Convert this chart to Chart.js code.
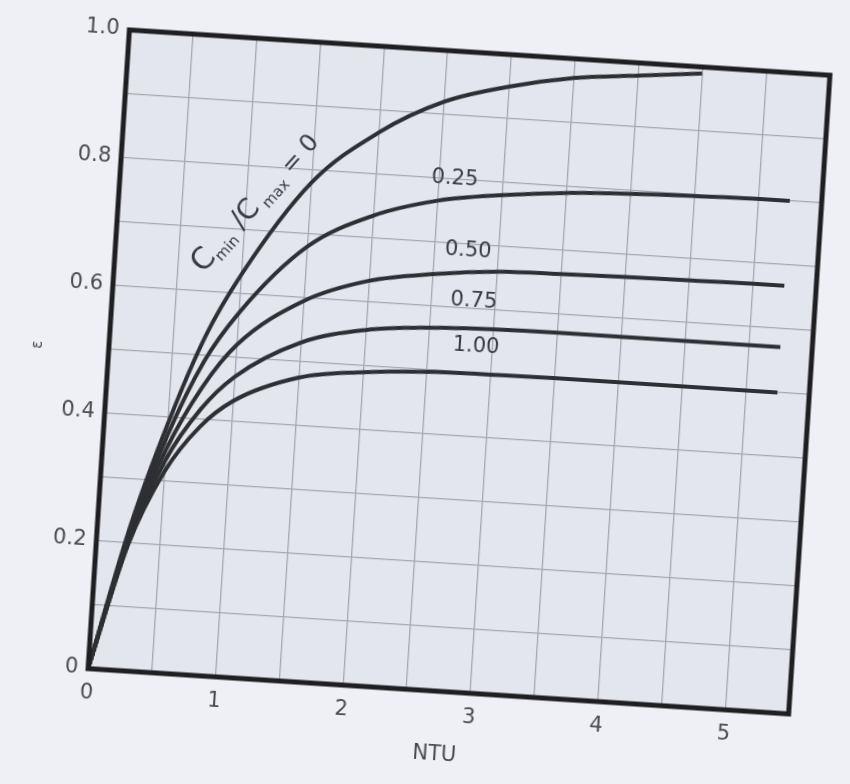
<!DOCTYPE html>
<html>
<head>
<meta charset="utf-8">
<script src="https://cdn.jsdelivr.net/npm/chart.js@4"></script>
<style>
  html, body { margin: 0; padding: 0; background: #eef0f5; overflow: hidden; }
  #chart {
    position: absolute; left: 0; top: 0;
    transform: rotate(3.7deg);
    transform-origin: 460px 372px;
  }
</style>
</head>
<body>
<canvas id="chart" width="850" height="784"></canvas>
<script>
// NTU values where the curves were read
const ntu = [0, 0.25, 0.5, 0.75, 1, 1.5, 2, 2.5, 3, 3.5, 4, 4.5, 5, 5.25];
const ntuZero = [0, 0.25, 0.5, 0.75, 1, 1.5, 2, 2.5, 3, 3.5, 4, 4.5];

// effectiveness
const epsC0 = [0, 0.22, 0.39, 0.53, 0.63, 0.78, 0.865, 0.92, 0.95, 0.97, 0.98, 0.99];
const epsC025 = [0, 0.21, 0.37, 0.49, 0.57, 0.68, 0.735, 0.765, 0.78, 0.79, 0.795, 0.798, 0.8, 0.8];
const epsC050 = [0, 0.21, 0.35, 0.45, 0.52, 0.595, 0.633, 0.65, 0.66, 0.663, 0.665, 0.666, 0.667, 0.667];
const epsC075 = [0, 0.2, 0.333, 0.416, 0.47, 0.53, 0.556, 0.566, 0.57, 0.571, 0.571, 0.571, 0.571, 0.571];
const epsC100 = [0, 0.197, 0.316, 0.388, 0.432, 0.475, 0.49, 0.497, 0.499, 0.5, 0.5, 0.5, 0.5, 0.5];

const curveLabels = ['0.25', '0.50', '0.75', '1.00'];
const labelPos = [[2.62, 0.80], [2.76, 0.69], [2.83, 0.612], [2.87, 0.542]];
const ratioLabelPos = [1.06, 0.745];

const toPoints = (xs, ys) => ys.map((y, i) => ({ x: xs[i], y: y }));

const lineStyle = {
  borderColor: '#2e2f33',
  borderWidth: 4,
  pointRadius: 0,
  cubicInterpolationMode: 'monotone',
  fill: false
};

const plotDecor = {
  id: 'plotDecor',
  beforeDraw(chart) {
    const { ctx, chartArea: a } = chart;
    ctx.save();
    ctx.fillStyle = '#e3e6ed';
    ctx.fillRect(a.left, a.top, a.right - a.left, a.bottom - a.top);
    ctx.restore();
  },
  afterDraw(chart) {
    const { ctx, chartArea: a, scales } = chart;
    ctx.save();
    ctx.strokeStyle = '#1f1f22';
    ctx.lineWidth = 5;
    ctx.strokeRect(a.left, a.top, a.right - a.left, a.bottom - a.top);

    ctx.fillStyle = '#3a3a3e';
    ctx.font = '21px "DejaVu Sans"';
    ctx.textAlign = 'center';
    ctx.textBaseline = 'middle';
    curveLabels.forEach((t, i) => {
      ctx.fillText(t, scales.x.getPixelForValue(labelPos[i][0]), scales.y.getPixelForValue(labelPos[i][1]));
    });

    // C_min/C_max = 0 written along the top curve
    ctx.translate(scales.x.getPixelForValue(ratioLabelPos[0]), scales.y.getPixelForValue(ratioLabelPos[1]));
    ctx.rotate(-52 * Math.PI / 180);
    ctx.textAlign = 'left';
    ctx.textBaseline = 'alphabetic';
    const parts = [
      ['C', 30, 0], ['min', 15, 6], [' /C', 28, 0], [' max', 15, 6], [' = 0', 24, 0]
    ];
    let w = 0;
    parts.forEach(p => { ctx.font = p[1] + 'px "DejaVu Sans"'; w += ctx.measureText(p[0]).width; });
    let x = -w / 2;
    parts.forEach(p => {
      ctx.font = p[1] + 'px "DejaVu Sans"';
      ctx.fillText(p[0], x, 10 + p[2]);
      x += ctx.measureText(p[0]).width;
    });
    ctx.restore();
  }
};

new Chart(document.getElementById('chart'), {
  type: 'line',
  data: {
    datasets: [
      { label: '0', data: toPoints(ntuZero, epsC0), ...lineStyle },
      { label: '0.25', data: toPoints(ntu, epsC025), ...lineStyle },
      { label: '0.50', data: toPoints(ntu, epsC050), ...lineStyle },
      { label: '0.75', data: toPoints(ntu, epsC075), ...lineStyle },
      { label: '1.00', data: toPoints(ntu, epsC100), ...lineStyle }
    ]
  },
  plugins: [plotDecor],
  options: {
    responsive: false,
    animation: false,
    layout: { padding: { left: 24, right: 40, top: 52, bottom: 12 } },
    plugins: { legend: { display: false }, tooltip: { enabled: false } },
    scales: {
      x: {
        type: 'linear',
        min: 0, max: 5.5,
        grid: { color: '#a4a8b2', lineWidth: 1.3, drawTicks: false },
        border: { display: false },
        ticks: {
          stepSize: 0.5,
          padding: 12,
          color: '#4a4a50',
          font: { family: 'DejaVu Sans', size: 21 },
          maxRotation: 0,
          autoSkip: false,
          callback: v => Number.isInteger(v) ? String(v) : ''
        },
        title: {
          display: true, text: 'NTU', color: '#4a4a50',
          font: { family: 'DejaVu Sans', size: 21 }
        },
        afterFit: s => { s.height = 80; }
      },
      y: {
        min: 0, max: 1,
        grid: { color: '#a4a8b2', lineWidth: 1.3, drawTicks: false },
        border: { display: false },
        ticks: {
          stepSize: 0.1,
          padding: 10,
          color: '#4a4a50',
          font: { family: 'DejaVu Sans', size: 21 },
          autoSkip: false,
          callback: v => {
            const k = Math.round(v * 10);
            if (k % 2) return '';
            if (k === 0) return '0';
            return (k / 10).toFixed(1);
          }
        },
        title: {
          display: true, text: 'ε', color: '#4a4a50',
          font: { family: 'DejaVu Sans', size: 15 }
        },
        afterFit: s => { s.width = 84; }
      }
    }
  }
});
</script>
</body>
</html>
